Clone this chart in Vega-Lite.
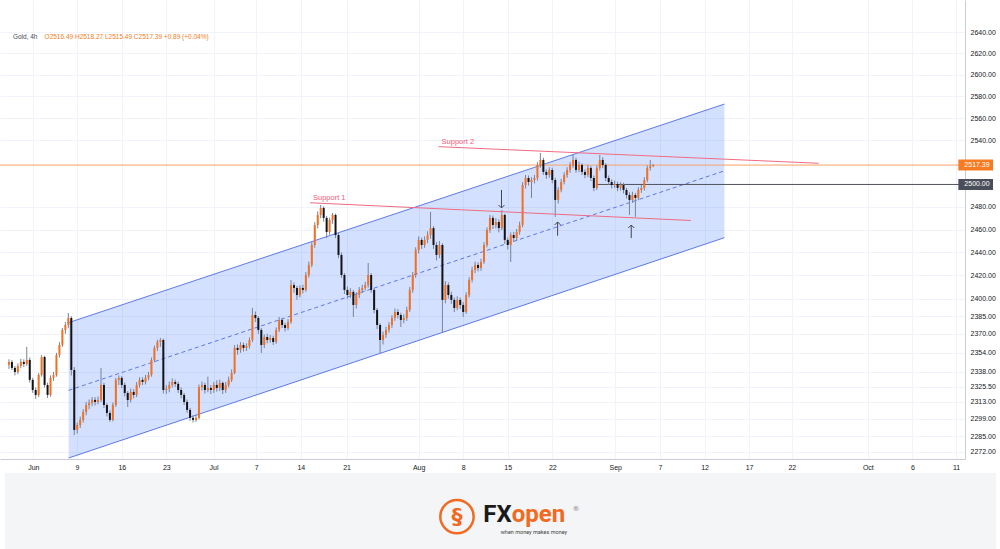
{
"$schema": "https://vega.github.io/schema/vega-lite/v6.json",
"autosize": {"type": "none"},
"padding": {"left": 0, "top": 0, "right": 35, "bottom": 90},
"background": "#ffffff",
"width": 965,
"height": 459,
"view": {"stroke": null, "fill": "#ffffff"},
"config": {
  "font": "Liberation Sans",
  "axis": {"labelFont": "Liberation Sans", "labelFontSize": 7, "labelColor": "#131722", "ticks": false, "domainColor": "#c9ccd4", "gridColor": "#f0f3fa", "gridWidth": 1}
},
"datasets": {
"candles": [
{"b":0,"o":2344.0,"h":2348.5,"l":2340.5,"c":2346.3},
{"b":1,"o":2346.3,"h":2348,"l":2339.5,"c":2341.3},
{"b":2,"o":2341.3,"h":2343,"l":2335,"c":2337.9},
{"b":3,"o":2337.9,"h":2345,"l":2336,"c":2342.9},
{"b":4,"o":2342.9,"h":2349,"l":2341,"c":2346.3},
{"b":5,"o":2346.3,"h":2348.5,"l":2342,"c":2344.6},
{"b":6,"o":2344.6,"h":2359,"l":2343,"c":2348.0},
{"b":7,"o":2348.0,"h":2350,"l":2329,"c":2331.3},
{"b":8,"o":2331.3,"h":2333,"l":2320.5,"c":2322.9},
{"b":9,"o":2322.9,"h":2325,"l":2315.5,"c":2318.8},
{"b":10,"o":2318.8,"h":2337,"l":2317,"c":2335.4},
{"b":11,"o":2335.4,"h":2352.1,"l":2334,"c":2350.5},
{"b":12,"o":2350.5,"h":2351.5,"l":2325,"c":2327.1},
{"b":13,"o":2327.1,"h":2329,"l":2316.3,"c":2318.8},
{"b":14,"o":2318.8,"h":2335,"l":2317.5,"c":2333.0},
{"b":15,"o":2333.0,"h":2338,"l":2330.5,"c":2335.4},
{"b":16,"o":2335.4,"h":2354,"l":2334,"c":2352.1},
{"b":17,"o":2352.1,"h":2363,"l":2350,"c":2360.6},
{"b":18,"o":2360.6,"h":2375,"l":2359,"c":2373.3},
{"b":19,"o":2373.3,"h":2380,"l":2370,"c":2377.5},
{"b":20,"o":2377.5,"h":2387.7,"l":2375,"c":2383.5},
{"b":21,"o":2383.5,"h":2385,"l":2335,"c":2339.6},
{"b":22,"o":2339.6,"h":2342,"l":2285.8,"c":2290.0},
{"b":23,"o":2290.0,"h":2296,"l":2287,"c":2294.0},
{"b":24,"o":2294.0,"h":2301,"l":2291.5,"c":2298.2},
{"b":25,"o":2298.2,"h":2307,"l":2296,"c":2304.7},
{"b":26,"o":2304.7,"h":2313,"l":2302,"c":2310.5},
{"b":27,"o":2310.5,"h":2315,"l":2307,"c":2312.2},
{"b":28,"o":2312.2,"h":2317,"l":2309.5,"c":2314.7},
{"b":29,"o":2314.7,"h":2317,"l":2310,"c":2313.0},
{"b":30,"o":2313.0,"h":2317.5,"l":2311,"c":2314.7},
{"b":31,"o":2314.7,"h":2341.3,"l":2313,"c":2327.1},
{"b":32,"o":2327.1,"h":2329,"l":2308,"c":2310.5},
{"b":33,"o":2310.5,"h":2312,"l":2301,"c":2303.9},
{"b":34,"o":2303.9,"h":2306,"l":2296.6,"c":2298.2},
{"b":35,"o":2298.2,"h":2312.5,"l":2297,"c":2310.5},
{"b":36,"o":2310.5,"h":2333,"l":2309,"c":2331.3},
{"b":37,"o":2331.3,"h":2335,"l":2327,"c":2333.0},
{"b":38,"o":2333.0,"h":2334.5,"l":2324.5,"c":2327.1},
{"b":39,"o":2327.1,"h":2329,"l":2317.5,"c":2320.4},
{"b":40,"o":2320.4,"h":2322,"l":2308.8,"c":2314.7},
{"b":41,"o":2314.7,"h":2324,"l":2312.5,"c":2321.3},
{"b":42,"o":2321.3,"h":2323.5,"l":2316,"c":2318.8},
{"b":43,"o":2318.8,"h":2329.5,"l":2317,"c":2327.1},
{"b":44,"o":2327.1,"h":2333.5,"l":2325,"c":2331.3},
{"b":45,"o":2331.3,"h":2333.5,"l":2327,"c":2329.6},
{"b":46,"o":2329.6,"h":2335.5,"l":2327.5,"c":2333.0},
{"b":47,"o":2333.0,"h":2338,"l":2331,"c":2335.4},
{"b":48,"o":2335.4,"h":2350,"l":2334,"c":2348.0},
{"b":49,"o":2348.0,"h":2360,"l":2346,"c":2358.1},
{"b":50,"o":2358.1,"h":2365,"l":2355.5,"c":2363.1},
{"b":51,"o":2363.1,"h":2366.5,"l":2359,"c":2364.8},
{"b":52,"o":2364.8,"h":2366,"l":2320,"c":2322.9},
{"b":53,"o":2322.9,"h":2327,"l":2319.5,"c":2324.0},
{"b":54,"o":2324.0,"h":2330,"l":2321,"c":2327.1},
{"b":55,"o":2327.1,"h":2332.5,"l":2325,"c":2329.6},
{"b":56,"o":2329.6,"h":2331.5,"l":2325.5,"c":2328.0},
{"b":57,"o":2328.0,"h":2330,"l":2320.5,"c":2322.9},
{"b":58,"o":2322.9,"h":2325,"l":2316,"c":2318.8},
{"b":59,"o":2318.8,"h":2320.5,"l":2310.5,"c":2313.0},
{"b":60,"o":2313.0,"h":2315,"l":2304,"c":2306.4},
{"b":61,"o":2306.4,"h":2308,"l":2297.4,"c":2299.9},
{"b":62,"o":2299.9,"h":2302,"l":2296,"c":2298.2},
{"b":63,"o":2298.2,"h":2302.5,"l":2296.5,"c":2299.9},
{"b":64,"o":2299.9,"h":2327.5,"l":2298.5,"c":2325.4},
{"b":65,"o":2325.4,"h":2330,"l":2322.5,"c":2327.1},
{"b":66,"o":2327.1,"h":2329,"l":2320,"c":2322.9},
{"b":67,"o":2322.9,"h":2334,"l":2321,"c":2324.6},
{"b":68,"o":2324.6,"h":2327,"l":2319.5,"c":2322.9},
{"b":69,"o":2322.9,"h":2329.5,"l":2320.5,"c":2327.1},
{"b":70,"o":2327.1,"h":2331,"l":2321.5,"c":2324.6},
{"b":71,"o":2324.6,"h":2331.5,"l":2322,"c":2328.8},
{"b":72,"o":2328.8,"h":2330,"l":2319.5,"c":2322.9},
{"b":73,"o":2322.9,"h":2329.5,"l":2320.5,"c":2327.1},
{"b":74,"o":2327.1,"h":2334,"l":2325,"c":2331.3},
{"b":75,"o":2331.3,"h":2340,"l":2329.5,"c":2337.1},
{"b":76,"o":2337.1,"h":2360.5,"l":2336,"c":2358.1},
{"b":77,"o":2358.1,"h":2361,"l":2352.5,"c":2356.4},
{"b":78,"o":2356.4,"h":2363,"l":2354,"c":2360.6},
{"b":79,"o":2360.6,"h":2362.5,"l":2355,"c":2358.1},
{"b":80,"o":2358.1,"h":2362,"l":2355.5,"c":2359.8},
{"b":81,"o":2359.8,"h":2367,"l":2357.5,"c":2364.8},
{"b":82,"o":2364.8,"h":2392.0,"l":2363,"c":2386.0},
{"b":83,"o":2386.0,"h":2389,"l":2380,"c":2383.5},
{"b":84,"o":2383.5,"h":2385,"l":2370,"c":2373.3},
{"b":85,"o":2373.3,"h":2375,"l":2353.8,"c":2360.6},
{"b":86,"o":2360.6,"h":2369.5,"l":2358,"c":2367.3},
{"b":87,"o":2367.3,"h":2370,"l":2362,"c":2364.8},
{"b":88,"o":2364.8,"h":2369,"l":2362.5,"c":2366.5},
{"b":89,"o":2366.5,"h":2368.5,"l":2360.5,"c":2363.1},
{"b":90,"o":2363.1,"h":2375.5,"l":2361.5,"c":2373.3},
{"b":91,"o":2373.3,"h":2384.3,"l":2371.5,"c":2381.8},
{"b":92,"o":2381.8,"h":2383.5,"l":2375,"c":2377.5},
{"b":93,"o":2377.5,"h":2379.5,"l":2372,"c":2375.0},
{"b":94,"o":2375.0,"h":2382.5,"l":2373,"c":2380.1},
{"b":95,"o":2380.1,"h":2416.1,"l":2378.5,"c":2411.7},
{"b":96,"o":2411.7,"h":2414,"l":2405,"c":2409.2},
{"b":97,"o":2409.2,"h":2411,"l":2398.9,"c":2403.1},
{"b":98,"o":2403.1,"h":2411.5,"l":2401,"c":2409.2},
{"b":99,"o":2409.2,"h":2412,"l":2404.5,"c":2407.5},
{"b":100,"o":2407.5,"h":2423,"l":2406,"c":2420.4},
{"b":101,"o":2420.4,"h":2432,"l":2418,"c":2429.1},
{"b":102,"o":2429.1,"h":2449,"l":2427,"c":2446.5},
{"b":103,"o":2446.5,"h":2466.5,"l":2444,"c":2464.0},
{"b":104,"o":2464.0,"h":2476,"l":2461,"c":2472.9},
{"b":105,"o":2472.9,"h":2481.7,"l":2470,"c":2479.1},
{"b":106,"o":2479.1,"h":2480.5,"l":2467,"c":2470.3},
{"b":107,"o":2470.3,"h":2472,"l":2452.6,"c":2457.9},
{"b":108,"o":2457.9,"h":2470.5,"l":2455.5,"c":2468.5},
{"b":109,"o":2468.5,"h":2474.6,"l":2465,"c":2472.9},
{"b":110,"o":2472.9,"h":2474,"l":2452.5,"c":2455.2},
{"b":111,"o":2455.2,"h":2457,"l":2435,"c":2437.8},
{"b":112,"o":2437.8,"h":2440,"l":2418,"c":2420.4},
{"b":113,"o":2420.4,"h":2422,"l":2404,"c":2407.5},
{"b":114,"o":2407.5,"h":2410.5,"l":2400,"c":2403.1},
{"b":115,"o":2403.1,"h":2409,"l":2400.5,"c":2405.8},
{"b":116,"o":2405.8,"h":2407.5,"l":2384.3,"c":2394.6},
{"b":117,"o":2394.6,"h":2405.5,"l":2391.5,"c":2403.1},
{"b":118,"o":2403.1,"h":2410,"l":2400.5,"c":2407.5},
{"b":119,"o":2407.5,"h":2412,"l":2405,"c":2409.2},
{"b":120,"o":2409.2,"h":2414.5,"l":2407,"c":2411.7},
{"b":121,"o":2411.7,"h":2430.8,"l":2409.5,"c":2420.4},
{"b":122,"o":2420.4,"h":2422,"l":2405,"c":2407.5},
{"b":123,"o":2407.5,"h":2409,"l":2387.5,"c":2390.3},
{"b":124,"o":2390.3,"h":2392,"l":2374,"c":2377.5},
{"b":125,"o":2377.5,"h":2379,"l":2353.8,"c":2364.8},
{"b":126,"o":2364.8,"h":2372,"l":2361,"c":2369.0},
{"b":127,"o":2369.0,"h":2376,"l":2366.5,"c":2373.3},
{"b":128,"o":2373.3,"h":2380,"l":2371,"c":2377.5},
{"b":129,"o":2377.5,"h":2386,"l":2375,"c":2383.5},
{"b":130,"o":2383.5,"h":2391.5,"l":2381,"c":2388.6},
{"b":131,"o":2388.6,"h":2391,"l":2383,"c":2386.0},
{"b":132,"o":2386.0,"h":2388,"l":2375.8,"c":2381.8},
{"b":133,"o":2381.8,"h":2386.5,"l":2379,"c":2383.5},
{"b":134,"o":2383.5,"h":2393,"l":2381,"c":2390.3},
{"b":135,"o":2390.3,"h":2410,"l":2388.5,"c":2407.5},
{"b":136,"o":2407.5,"h":2423,"l":2405,"c":2420.4},
{"b":137,"o":2420.4,"h":2444.5,"l":2418,"c":2442.2},
{"b":138,"o":2442.2,"h":2454,"l":2439,"c":2450.9},
{"b":139,"o":2450.9,"h":2453,"l":2443,"c":2446.5},
{"b":140,"o":2446.5,"h":2454,"l":2444,"c":2450.9},
{"b":141,"o":2450.9,"h":2458.5,"l":2448,"c":2455.2},
{"b":142,"o":2455.2,"h":2475.5,"l":2452,"c":2461.3},
{"b":143,"o":2461.3,"h":2463,"l":2443,"c":2446.5},
{"b":144,"o":2446.5,"h":2449,"l":2433,"c":2437.8},
{"b":145,"o":2437.8,"h":2450,"l":2435,"c":2446.5},
{"b":146,"o":2446.5,"h":2448,"l":2370.7,"c":2398.9},
{"b":147,"o":2398.9,"h":2415,"l":2396,"c":2411.7},
{"b":148,"o":2411.7,"h":2414,"l":2400,"c":2403.1},
{"b":149,"o":2403.1,"h":2406,"l":2395.5,"c":2398.9},
{"b":150,"o":2398.9,"h":2401,"l":2388.5,"c":2392.0},
{"b":151,"o":2392.0,"h":2402,"l":2390,"c":2398.9},
{"b":152,"o":2398.9,"h":2401,"l":2391,"c":2394.6},
{"b":153,"o":2394.6,"h":2397,"l":2384.3,"c":2388.6},
{"b":154,"o":2388.6,"h":2405.5,"l":2387,"c":2403.1},
{"b":155,"o":2403.1,"h":2418.5,"l":2401,"c":2416.1},
{"b":156,"o":2416.1,"h":2427.5,"l":2414,"c":2424.7},
{"b":157,"o":2424.7,"h":2432,"l":2422,"c":2429.1},
{"b":158,"o":2429.1,"h":2431.5,"l":2423.5,"c":2426.4},
{"b":159,"o":2426.4,"h":2434.5,"l":2424,"c":2431.7},
{"b":160,"o":2431.7,"h":2449,"l":2430,"c":2446.5},
{"b":161,"o":2446.5,"h":2462,"l":2444.5,"c":2459.7},
{"b":162,"o":2459.7,"h":2473,"l":2457,"c":2470.3},
{"b":163,"o":2470.3,"h":2472.5,"l":2460.5,"c":2464.0},
{"b":164,"o":2464.0,"h":2470,"l":2461,"c":2466.7},
{"b":165,"o":2466.7,"h":2469,"l":2457.5,"c":2461.3},
{"b":166,"o":2461.3,"h":2477.3,"l":2459.5,"c":2472.9},
{"b":167,"o":2472.9,"h":2474,"l":2447.5,"c":2450.9},
{"b":168,"o":2450.9,"h":2453,"l":2442.5,"c":2446.5},
{"b":169,"o":2446.5,"h":2457.5,"l":2431.7,"c":2455.2},
{"b":170,"o":2455.2,"h":2458,"l":2449.5,"c":2452.6},
{"b":171,"o":2452.6,"h":2460.5,"l":2450,"c":2457.9},
{"b":172,"o":2457.9,"h":2467,"l":2455.5,"c":2464.0},
{"b":173,"o":2464.0,"h":2502,"l":2462,"c":2499.5},
{"b":174,"o":2499.5,"h":2508.5,"l":2496.5,"c":2505.8},
{"b":175,"o":2505.8,"h":2508,"l":2499,"c":2502.2},
{"b":176,"o":2502.2,"h":2506.5,"l":2488.0,"c":2504.0},
{"b":177,"o":2504.0,"h":2508.5,"l":2501,"c":2505.8},
{"b":178,"o":2505.8,"h":2520,"l":2503.5,"c":2517.5},
{"b":179,"o":2517.5,"h":2528.3,"l":2515,"c":2522.0},
{"b":180,"o":2522.0,"h":2524,"l":2508.5,"c":2511.2},
{"b":181,"o":2511.2,"h":2513.5,"l":2505,"c":2508.5},
{"b":182,"o":2508.5,"h":2515.5,"l":2506,"c":2513.0},
{"b":183,"o":2513.0,"h":2515,"l":2501,"c":2504.0},
{"b":184,"o":2504.0,"h":2506,"l":2471.2,"c":2486.2},
{"b":185,"o":2486.2,"h":2497.5,"l":2483,"c":2495.1},
{"b":186,"o":2495.1,"h":2505,"l":2493,"c":2502.2},
{"b":187,"o":2502.2,"h":2511,"l":2500,"c":2508.5},
{"b":188,"o":2508.5,"h":2515.5,"l":2506,"c":2513.0},
{"b":189,"o":2513.0,"h":2520,"l":2510.5,"c":2517.5},
{"b":190,"o":2517.5,"h":2526.5,"l":2515,"c":2522.0},
{"b":191,"o":2522.0,"h":2524,"l":2510.5,"c":2513.0},
{"b":192,"o":2513.0,"h":2520.5,"l":2511,"c":2517.5},
{"b":193,"o":2517.5,"h":2519,"l":2508.5,"c":2511.2},
{"b":194,"o":2511.2,"h":2513.5,"l":2505.5,"c":2508.5},
{"b":195,"o":2508.5,"h":2517.5,"l":2506.5,"c":2514.8},
{"b":196,"o":2514.8,"h":2516.5,"l":2503,"c":2505.8},
{"b":197,"o":2505.8,"h":2508,"l":2494,"c":2496.9},
{"b":198,"o":2496.9,"h":2517,"l":2495,"c":2514.8},
{"b":199,"o":2514.8,"h":2526.5,"l":2512.5,"c":2522.0},
{"b":200,"o":2522.0,"h":2524.5,"l":2514.5,"c":2517.5},
{"b":201,"o":2517.5,"h":2519,"l":2503,"c":2505.8},
{"b":202,"o":2505.8,"h":2508,"l":2499.5,"c":2502.2},
{"b":203,"o":2502.2,"h":2504.5,"l":2496.5,"c":2499.5},
{"b":204,"o":2499.5,"h":2503.5,"l":2497,"c":2500.4},
{"b":205,"o":2500.4,"h":2502.5,"l":2494,"c":2496.9},
{"b":206,"o":2496.9,"h":2502,"l":2494.5,"c":2499.5},
{"b":207,"o":2499.5,"h":2501.5,"l":2492,"c":2495.1},
{"b":208,"o":2495.1,"h":2497,"l":2487.5,"c":2490.6},
{"b":209,"o":2490.6,"h":2493,"l":2472.9,"c":2486.2},
{"b":210,"o":2486.2,"h":2493.5,"l":2483.5,"c":2490.6},
{"b":211,"o":2490.6,"h":2492.5,"l":2471.2,"c":2488.0},
{"b":212,"o":2488.0,"h":2497.5,"l":2486,"c":2495.1},
{"b":213,"o":2495.1,"h":2499.5,"l":2492.5,"c":2496.9},
{"b":214,"o":2496.9,"h":2506.5,"l":2494.5,"c":2504.0},
{"b":215,"o":2504.0,"h":2517,"l":2502,"c":2514.8},
{"b":216,"o":2514.8,"h":2522.0,"l":2512.5,"c":2516.49},
{"b":217,"o":2516.49,"h":2518.27,"l":2515.49,"c":2517.39}
],
"channel": [
{"b":20.1,"up":2379.5,"lo":2267.1,"mid":2322.6},
{"b":241,"up":2572.9,"lo":2452.9,"mid":2512.2}
],
"supports": [
{"name":"Support 1","pos":"start","b":101.4,"p":2483.7},
{"name":"Support 1","pos":"end","b":229.7,"p":2468.0},
{"name":"Support 2","pos":"start","b":144.7,"p":2534.0},
{"name":"Support 2","pos":"end","b":272.7,"p":2519.0}
],
"arrows": [
{"b":165.9,"top":2495.1,"bot":2479.1,"dir":"down"},
{"b":184.8,"top":2466.7,"bot":2454.6,"dir":"up"},
{"b":209.6,"top":2464.0,"bot":2452.5,"dir":"up"}
],
"pricetags": [
{"p":2517.39,"lab":"2517.39","kind":"last"},
{"p":2500,"lab":"2500.00","kind":"line"}
],
"header": [
{"b":1.33,"p":2635.3,"t":"Gold, 4h","k":"name"},
{"b":12,"p":2635.3,"t":"O2516.49  H2518.27  L2515.49  C2517.39  +0.89 (+0.04%)","k":"ohlc"}
]
},
"layer": [
    {
      "data": {"values": [{}]},
      "mark": {"type": "rect", "color": "#f4f5f7", "clip": false},
      "encoding": {
        "x": {"datum": -1.333, "type": "quantitative", "title": null},
        "x2": {"datum": 332.5},
        "y": {"datum": 2255.0, "type": "quantitative", "title": null},
        "y2": {"datum": 2190}
      }
    },
    {
      "data": {"name": "channel"},
      "mark": {"type": "area", "color": "#2962ff", "opacity": 0.2},
      "encoding": {
        "x": {"field": "b", "type": "quantitative", "title": null,
              "scale": {"domain": [-1.333, 320.333], "nice": false, "zero": false},
              "axis": {"orient": "bottom", "title": null, "grid": true, "ticks": false, "labelPadding": 4, "labelFlush": false, "labelOverlap": false,
                       "values": [8.2, 22.9, 38, 53, 68.9, 83.3, 98.3, 113.7, 138, 153, 168, 183, 204.2, 219.3, 234.3, 249.3, 263.7, 289.3, 304.3, 319],
                       "labelExpr": "['Jun','9','16','23','Jul','7','14','21','Aug','8','15','22','Sep','7','12','17','22','Oct','6','11'][indexof([8.2, 22.9, 38, 53, 68.9, 83.3, 98.3, 113.7, 138, 153, 168, 183, 204.2, 219.3, 234.3, 249.3, 263.7, 289.3, 304.3, 319], datum.value)]"}},
        "y": {"field": "up", "type": "quantitative", "title": null,
              "scale": {"type": "log", "domain": [2266.3, 2670.4], "nice": false, "zero": false},
              "axis": {"orient": "right", "title": null, "grid": true, "ticks": false, "labelPadding": 5, "labelFlush": false, "labelOverlap": false, "format": ".2f",
                       "values": [2640, 2620, 2600, 2580, 2560, 2540, 2480, 2460, 2440, 2420, 2400, 2385, 2370, 2354, 2338, 2325.5, 2313, 2299, 2285, 2272]}},
        "y2": {"field": "lo"}
      }
    },
    {
      "data": {"name": "channel"},
      "mark": {"type": "line", "color": "#5b79e8", "strokeWidth": 1},
      "encoding": {"x": {"field": "b", "type": "quantitative", "title": null}, "y": {"field": "up", "type": "quantitative", "title": null}}
    },
    {
      "data": {"name": "channel"},
      "mark": {"type": "line", "color": "#5b79e8", "strokeWidth": 1},
      "encoding": {"x": {"field": "b", "type": "quantitative", "title": null}, "y": {"field": "lo", "type": "quantitative", "title": null}}
    },
    {
      "data": {"name": "channel"},
      "mark": {"type": "line", "color": "#5b79e8", "strokeWidth": 1, "strokeDash": [4, 3]},
      "encoding": {"x": {"field": "b", "type": "quantitative", "title": null}, "y": {"field": "mid", "type": "quantitative", "title": null}}
    },
    {
      "data": {"values": [{}]},
      "mark": {"type": "rule", "color": "#f7a267", "strokeWidth": 1},
      "encoding": {"y": {"datum": 2517.39, "type": "quantitative", "title": null}}
    },
    {
      "data": {"values": [{}]},
      "mark": {"type": "rule", "color": "#50535e", "strokeWidth": 1},
      "encoding": {"x": {"datum": 197.7, "type": "quantitative", "title": null}, "x2": {"datum": 320.333}, "y": {"datum": 2500, "type": "quantitative", "title": null}}
    },
    {
      "data": {"name": "candles"},
      "mark": {"type": "rule", "color": "#7d8290", "strokeWidth": 1, "clip": true},
      "encoding": {"x": {"field": "b", "type": "quantitative", "title": null}, "y": {"field": "l", "type": "quantitative", "title": null}, "y2": {"field": "h"}}
    },
    {
      "data": {"name": "candles"},
      "mark": {"type": "bar", "size": 2, "clip": true},
      "encoding": {
        "x": {"field": "b", "type": "quantitative", "title": null},
        "y": {"field": "o", "type": "quantitative", "title": null},
        "y2": {"field": "c"},
        "color": {"condition": {"test": "datum.c >= datum.o", "value": "#f37021"}, "value": "#131313"}
      }
    },
    {
      "data": {"name": "supports"},
      "mark": {"type": "line", "color": "#ef6b83", "strokeWidth": 1},
      "encoding": {"x": {"field": "b", "type": "quantitative", "title": null}, "y": {"field": "p", "type": "quantitative", "title": null}, "detail": {"field": "name"}}
    },
    {
      "data": {"name": "supports"},
      "transform": [{"filter": "datum.pos == 'start'"}],
      "mark": {"type": "text", "color": "#ef5b7a", "fontSize": 7.5, "align": "left", "baseline": "bottom", "dx": 3, "dy": -1},
      "encoding": {"x": {"field": "b", "type": "quantitative", "title": null}, "y": {"field": "p", "type": "quantitative", "title": null}, "text": {"field": "name"}}
    },
    {
      "data": {"name": "arrows"},
      "mark": {"type": "rule", "color": "#434651", "strokeWidth": 1},
      "encoding": {"x": {"field": "b", "type": "quantitative", "title": null}, "y": {"field": "top", "type": "quantitative", "title": null}, "y2": {"field": "bot"}}
    },
    {
      "data": {"name": "arrows"},
      "transform": [{"filter": "datum.dir == 'down'"}],
      "mark": {"type": "point", "shape": "M-1,-1L0,0L1,-1", "size": 36, "filled": false, "stroke": "#434651", "strokeWidth": 1, "opacity": 1},
      "encoding": {"x": {"field": "b", "type": "quantitative", "title": null}, "y": {"field": "bot", "type": "quantitative", "title": null}}
    },
    {
      "data": {"name": "arrows"},
      "transform": [{"filter": "datum.dir == 'up'"}],
      "mark": {"type": "point", "shape": "M-1,1L0,0L1,1", "size": 36, "filled": false, "stroke": "#434651", "strokeWidth": 1, "opacity": 1},
      "encoding": {"x": {"field": "b", "type": "quantitative", "title": null}, "y": {"field": "top", "type": "quantitative", "title": null}}
    },
    {
      "data": {"name": "pricetags"},
      "mark": {"type": "point", "shape": "M-0.1,-0.33H2V0.33H-0.1Z", "size": 1089, "filled": true, "opacity": 1, "strokeWidth": 0},
      "encoding": {
        "x": {"datum": 320.333, "type": "quantitative", "title": null},
        "y": {"field": "p", "type": "quantitative", "title": null},
        "color": {"condition": {"test": "datum.kind == 'last'", "value": "#f57c22"}, "value": "#4a4e5a"}
      }
    },
    {
      "data": {"name": "pricetags"},
      "mark": {"type": "text", "color": "#ffffff", "fontSize": 7, "align": "center", "baseline": "middle", "dx": 17},
      "encoding": {
        "x": {"datum": 320.333, "type": "quantitative", "title": null},
        "y": {"field": "p", "type": "quantitative", "title": null},
        "text": {"field": "lab"}
      }
    },
    {
      "data": {"name": "header"},
      "transform": [{"filter": "datum.k == 'name'"}],
      "mark": {"type": "text", "color": "#4a4e5a", "fontSize": 6.5, "align": "left", "baseline": "middle"},
      "encoding": {"x": {"field": "b", "type": "quantitative", "title": null}, "y": {"field": "p", "type": "quantitative", "title": null}, "text": {"field": "t"}}
    },
    {
      "data": {"name": "header"},
      "transform": [{"filter": "datum.k == 'ohlc'"}],
      "mark": {"type": "text", "color": "#f57c22", "fontSize": 6.5, "align": "left", "baseline": "middle"},
      "encoding": {"x": {"field": "b", "type": "quantitative", "title": null}, "y": {"field": "p", "type": "quantitative", "title": null}, "text": {"field": "t"}}
    },
    {
      "data": {"values": [{}]},
      "mark": {"type": "point", "shape": "circle", "size": 1115, "filled": false, "stroke": "#f26a21", "strokeWidth": 2.5, "opacity": 1, "clip": false},
      "encoding": {"x": {"datum": 150.9, "type": "quantitative", "title": null}, "y": {"datum": 2220.1, "type": "quantitative", "title": null}}
    },
    {
      "data": {"values": [{}]},
      "mark": {"type": "text", "text": "§", "font": "DejaVu Sans", "fontWeight": "bold", "fontSize": 22, "color": "#f26a21", "baseline": "middle", "align": "center", "clip": false},
      "encoding": {"x": {"datum": 150.9, "type": "quantitative", "title": null}, "y": {"datum": 2220.1, "type": "quantitative", "title": null}}
    },
    {
      "data": {"values": [{}]},
      "mark": {"type": "text", "text": "FX", "font": "Roboto", "fontWeight": "bold", "fontSize": 24, "color": "#1a1a1a", "align": "right", "baseline": "alphabetic", "clip": false},
      "encoding": {"x": {"datum": 169.33, "type": "quantitative", "title": null}, "y": {"datum": 2215.9, "type": "quantitative", "title": null}}
    },
    {
      "data": {"values": [{}]},
      "mark": {"type": "text", "text": "open", "font": "Roboto", "fontWeight": "bold", "fontSize": 24, "color": "#f26a21", "align": "left", "baseline": "alphabetic", "clip": false},
      "encoding": {"x": {"datum": 169.33, "type": "quantitative", "title": null}, "y": {"datum": 2215.9, "type": "quantitative", "title": null}}
    },
    {
      "data": {"values": [{}]},
      "mark": {"type": "text", "text": "when money makes money", "font": "Roboto", "fontSize": 5.5, "color": "#444444", "align": "center", "baseline": "middle", "clip": false},
      "encoding": {"x": {"datum": 176.83, "type": "quantitative", "title": null}, "y": {"datum": 2208.2, "type": "quantitative", "title": null}}
    },
    {
      "data": {"values": [{}]},
      "mark": {"type": "text", "text": "®", "font": "DejaVu Sans", "fontSize": 7, "color": "#888888", "align": "center", "baseline": "middle", "clip": false},
      "encoding": {"x": {"datum": 191.0, "type": "quantitative", "title": null}, "y": {"datum": 2226.2, "type": "quantitative", "title": null}}
    }
]
}
